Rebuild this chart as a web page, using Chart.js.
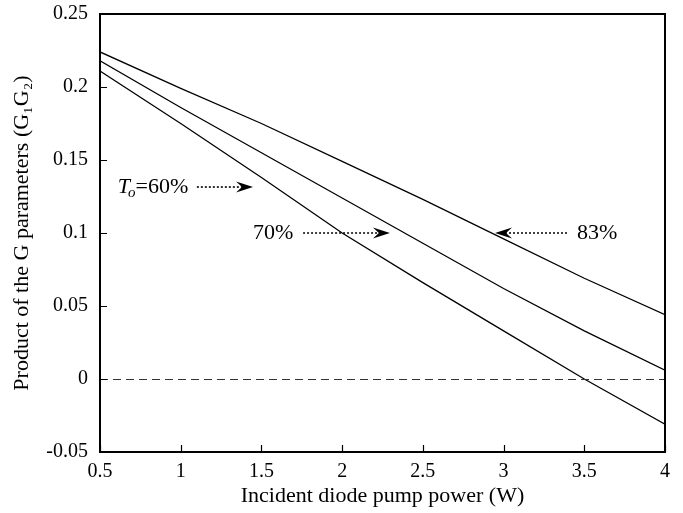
<!DOCTYPE html>
<html>
<head>
<meta charset="utf-8">
<script src="https://cdn.jsdelivr.net/npm/chart.js@4"></script>
<style>
html,body{margin:0;padding:0;background:#fff;}
#wrap{width:683px;height:513px;}
</style>
</head>
<body>
<div id="wrap"><canvas id="c" width="683" height="513"></canvas></div>
<script>
const powerW = [0.5, 1, 1.5, 2, 2.5, 3, 3.5, 4];
const g83 = [0.224, 0.199, 0.175, 0.149, 0.123, 0.096, 0.069, 0.044];
const g70 = [0.218, 0.186, 0.155, 0.124, 0.093, 0.062, 0.033, 0.006];
const g60 = [0.211, 0.175, 0.138, 0.100, 0.066, 0.033, 0.000, -0.031];
const xTicks = [0.5, 1, 1.5, 2, 2.5, 3, 3.5, 4];
const yTicks = [-0.05, 0, 0.05, 0.1, 0.15, 0.2, 0.25];
// annotation labels: text parts, label x (data), arrow from x, arrow to x, y (data)
const annLabels = [
  {parts:[['T','italic'],['o','italic-sub'],['=60%','normal']], x:0.61, from:1.10, to:1.448, y:0.1315},
  {parts:[['70%','normal']], x:1.448, from:1.758, to:2.296, y:0.1},
  {parts:[['83%','normal']], x:3.455, from:3.393, to:2.947, y:0.1}
];

const FONT = '"Liberation Serif", "Times New Roman", serif';

function pts(ys){ return powerW.map((x,i)=>({x:x,y:ys[i]})); }

const framePlugin = {
  id:'frame',
  afterDatasetsDraw(chart){
    const ctx = chart.ctx, a = chart.chartArea;
    const xs = chart.scales.x, ys = chart.scales.y;
    ctx.save();
    // dashed zero line
    ctx.strokeStyle = '#333';
    ctx.lineWidth = 1.2;
    ctx.setLineDash([8,5]);
    const y0 = Math.round(ys.getPixelForValue(0))+0.5;
    ctx.beginPath(); ctx.moveTo(a.left, y0); ctx.lineTo(a.right, y0); ctx.stroke();
    ctx.setLineDash([]);
    // frame
    ctx.strokeStyle = '#000';
    ctx.lineWidth = 2;
    ctx.strokeRect(a.left, a.top, a.right - a.left, a.bottom - a.top);
    // inward ticks
    ctx.lineWidth = 1.2;
    ctx.beginPath();
    xTicks.forEach(v=>{ const px = Math.round(xs.getPixelForValue(v))+0.5; ctx.moveTo(px,a.bottom); ctx.lineTo(px,a.bottom-7); });
    yTicks.forEach(v=>{ const py = Math.round(ys.getPixelForValue(v))+0.5; ctx.moveTo(a.left,py); ctx.lineTo(a.left+7,py); });
    ctx.stroke();
    // annotations
    annLabels.forEach(an=>{
      const py = ys.getPixelForValue(an.y);
      let px = xs.getPixelForValue(an.x);
      ctx.fillStyle = '#000';
      ctx.textBaseline = 'middle';
      ctx.textAlign = 'left';
      an.parts.forEach(p=>{
        if(p[1]==='italic'){ ctx.font = 'italic 22px '+FONT; ctx.fillText(p[0],px,py); px += ctx.measureText(p[0]).width; }
        else if(p[1]==='italic-sub'){ ctx.font = 'italic 15px '+FONT; ctx.fillText(p[0],px-2,py+6); px += ctx.measureText(p[0]).width-2; }
        else { ctx.font = '22px '+FONT; ctx.fillText(p[0],px,py); px += ctx.measureText(p[0]).width; }
      });
      const fx = xs.getPixelForValue(an.from), tx = xs.getPixelForValue(an.to);
      const dir = tx > fx ? 1 : -1;
      ctx.strokeStyle = '#000';
      ctx.lineWidth = 1.6;
      ctx.setLineDash([2,2]);
      ctx.beginPath(); ctx.moveTo(fx,py); ctx.lineTo(tx - dir*10,py); ctx.stroke();
      ctx.setLineDash([]);
      ctx.beginPath();
      ctx.moveTo(tx,py);
      ctx.lineTo(tx - dir*17, py-5.5);
      ctx.lineTo(tx - dir*11, py);
      ctx.lineTo(tx - dir*17, py+5.5);
      ctx.closePath();
      ctx.fill();
    });
    ctx.restore();
  }
};

new Chart(document.getElementById('c'), {
  type:'line',
  data:{
    datasets:[
      {label:'83%', data:pts(g83), borderColor:'#000', borderWidth:1.3, pointRadius:0, tension:0, fill:false},
      {label:'70%', data:pts(g70), borderColor:'#000', borderWidth:1.3, pointRadius:0, tension:0, fill:false},
      {label:'60%', data:pts(g60), borderColor:'#000', borderWidth:1.3, pointRadius:0, tension:0, fill:false}
    ]
  },
  options:{
    responsive:false,
    animation:false,
    layout:{padding:{top:14,right:18,left:0,bottom:0}},
    plugins:{legend:{display:false}, tooltip:{enabled:false}},
    scales:{
      x:{
        type:'linear', min:0.5, max:4,
        afterBuildTicks(s){ s.ticks = xTicks.map(v=>({value:v})); },
        afterFit(s){ s.height = 61; s.paddingLeft = 0; s.paddingRight = 0; },
        grid:{display:false, drawTicks:false},
        border:{display:false},
        ticks:{color:'#000', font:{family:FONT,size:20}, padding:8, maxRotation:0,
          callback:(v)=>String(v)},
        title:{display:true, text:'Incident diode pump power (W)', color:'#000', font:{family:FONT,size:22}, padding:{top:0,bottom:4}}
      },
      y:{
        type:'linear', min:-0.05, max:0.25,
        afterBuildTicks(s){ s.ticks = yTicks.map(v=>({value:v})); },
        afterFit(s){ s.width = 100; s.paddingTop = 0; s.paddingBottom = 0; },
        grid:{display:false, drawTicks:false},
        border:{display:false},
        ticks:{color:'#000', font:{family:FONT,size:20}, padding:12,
          callback:(v)=>String(Math.round(v*100)/100)},
        title:{display:true, text:'Product of the G parameters (G\u2081G\u2082)', color:'#000', font:{family:FONT,size:22}, padding:{top:9,bottom:4}}
      }
    }
  },
  plugins:[framePlugin]
});
</script>
</body>
</html>
